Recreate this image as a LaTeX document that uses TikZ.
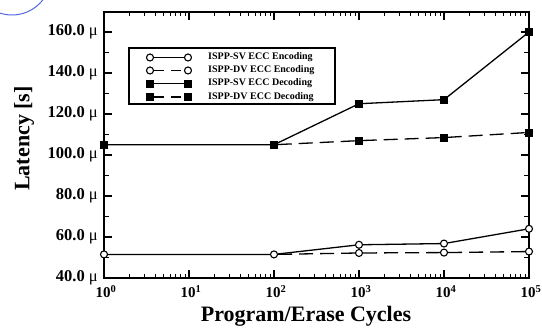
\documentclass[tikz,border=0pt]{standalone}
\usepackage{fontspec}
\setmainfont{Liberation Serif}
\usetikzlibrary{positioning,calc}
\tikzset{font=\bfseries}

\begin{document}
\begin{tikzpicture}[x=1pt,y=1pt]
	\useasboundingbox (0,0) rectangle (542,328);
	\tikzstyle{every node}=[inner sep=0pt]
	\tikzstyle{ring}=[circle, draw, fill=white, line width=1.1pt, minimum size=7pt]
	\tikzstyle{blk}=[rectangle, draw, fill=black, line width=0.5pt, minimum size=7pt]
	\tikzstyle{plain}=[line width=1.3pt]
	\tikzstyle{brk}=[line width=1.3pt, dash pattern=on 14pt off 7pt]
	\tikzstyle{entry}=[anchor=west, font=\bfseries\fontsize{10}{10}\selectfont]

	% stray blue arc in the corner
	\draw[line width=1pt, color={rgb,255:red,80;green,105;blue,225}] (12,352) circle (39);

	% frame
	\draw[line width=1.6pt] (104,50) rectangle (529,316);

	% ticks on the left and right
	\foreach \v in {40,60,...,160}{
		\draw[line width=1.3pt] (104,{50+2.05*(\v-40)}) -- ++(8,0);
		\draw[line width=1.3pt] (529,{50+2.05*(\v-40)}) -- ++(-8,0);
		\node[anchor=east] (yl\v) at (98,{50+2.05*(\v-40)}) {\fontsize{16.5}{16.5}\selectfont \v.0 {\mdseries μ}};
	}
	\foreach \v in {50,70,...,150}{
		\draw[line width=1.3pt] (104,{50+2.05*(\v-40)}) -- ++(5,0);
		\draw[line width=1.3pt] (529,{50+2.05*(\v-40)}) -- ++(-5,0);
	}

	% ticks at the bottom and top
	\foreach \d in {0,...,5}{
		\draw[line width=1.3pt] ({104+85*\d},50) -- ++(0,8);
		\draw[line width=1.3pt] ({104+85*\d},316) -- ++(0,-8);
		\node[anchor=north] (xl\d) at ({106+85*\d},43) {\fontsize{15}{15}\selectfont 10\textsuperscript{\d}};
	}
	\foreach \d in {0,...,4}{
		\foreach \m in {2,...,9}{
			\draw[line width=1.1pt] ({104+85*(\d+log10(\m))},50) -- ++(0,4);
			\draw[line width=1.1pt] ({104+85*(\d+log10(\m))},316) -- ++(0,-4);
		}
	}

	% axis titles
	\node[rotate=90] (ytitle) at (24,189.5) {\fontsize{22}{22}\selectfont Latency [s]};
	\node (xtitle) at (306,12) {\fontsize{22}{22}\selectfont Program/Erase Cycles};

	% data
	\begin{scope}[x=85pt, y=2.05pt, shift={(104pt,-32pt)}]
		\node[blk] (sd0) at (0,105) {};
		\node[blk] (sd2) at (2,105) {};
		\node[blk] (sd3) at (3,125) {};
		\node[blk] (sd4) at (4,127) {};
		\node[blk] (sd5) at (5,160) {};
		\node[blk] (dd3) at (3,107) {};
		\node[blk] (dd4) at (4,108.5) {};
		\node[blk] (dd5) at (5,111) {};
		\node[ring] (se0) at (0,51.5) {};
		\node[ring] (se2) at (2,51.5) {};
		\node[ring] (se3) at (3,56.2) {};
		\node[ring] (se4) at (4,56.8) {};
		\node[ring] (se5) at (5,64) {};
		\node[ring] (de3) at (3,52.2) {};
		\node[ring] (de4) at (4,52.4) {};
		\node[ring] (de5) at (5,52.9) {};

		\draw[brk] (sd2) -- (dd3) -- (dd4) -- (dd5);
		\draw[plain] (sd0) -- (sd2) -- (sd3) -- (sd4) -- (sd5);
		\draw[brk] (se2) -- (de3) -- (de4) -- (de5);
		\draw[plain] (se0) -- (se2) -- (se3) -- (se4) -- (se5);
	\end{scope}

	% legend
	\draw[line width=1.3pt, fill=white] (129,224) rectangle (335,280);
	\node[ring] (l1a) at (150,270.5) {};
	\node[ring] (l1b) at (188,270.5) {};
	\node[ring] (l2a) at (150,257.5) {};
	\node[ring] (l2b) at (188,257.5) {};
	\node[blk] (l3a) at (150,244.5) {};
	\node[blk] (l3b) at (188,244.5) {};
	\node[blk] (l4a) at (150,231) {};
	\node[blk] (l4b) at (188,231) {};
	\draw[plain] (l1a) -- (l1b);
	\draw[plain, dash pattern=on 10pt off 7pt] (l2a) -- (l2b);
	\draw[plain] (l3a) -- (l3b);
	\draw[plain, dash pattern=on 10pt off 7pt] (l4a) -- (l4b);
	\node[entry] (t1) at (208,270.5) {ISPP-SV ECC Encoding};
	\node[entry] (t2) at (208,257.5) {ISPP-DV ECC Encoding};
	\node[entry] (t3) at (208,244.5) {ISPP-SV ECC Decoding};
	\node[entry] (t4) at (208,231) {ISPP-DV ECC Decoding};
\end{tikzpicture}
\end{document}
